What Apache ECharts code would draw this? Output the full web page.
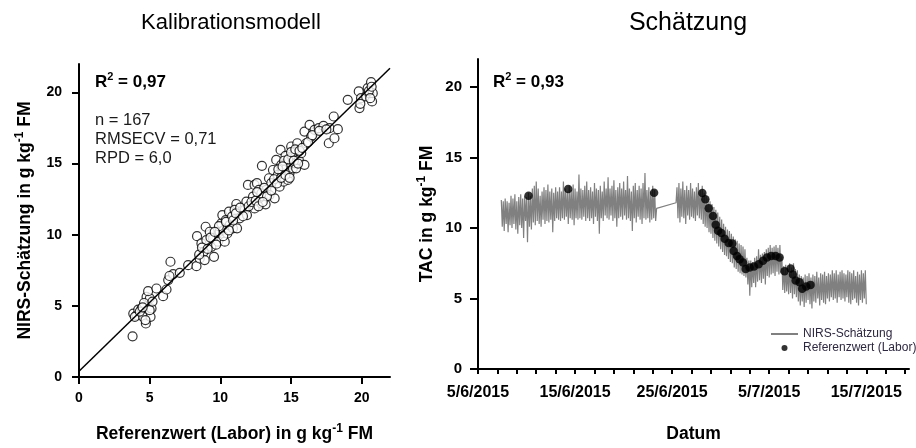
<!DOCTYPE html>
<html><head><meta charset="utf-8">
<script src="https://cdn.jsdelivr.net/npm/echarts@6/dist/echarts.min.js"></script>
<style>html,body{margin:0;padding:0;background:#fff}#c{width:916px;height:448px}</style>
</head><body><div id="c"></div>
<script>
// ---- Kalibrationsmodell: reference (lab) vs NIRS estimate, g/kg FM ----
const calRef = [3.79,3.84,4.07,4.19,4.42,3.95,4.54,4.73,4.89,4.78,
5.01,4.89,5.06,5.13,5.48,5.95,6.19,6.47,6.31,6.66,
7.13,7.72,8.31,8.35,8.54,8.66,8.82,8.96,9.01,8.89,
9.25,9.36,9.48,9.55,9.84,9.95,10.07,10.14,10.24,10.31,
10.38,10.49,10.61,10.66,10.82,10.89,11.13,11.18,11.01,11.36,
11.72,11.84,11.88,11.95,12.31,12.42,12.42,12.59,12.73,12.89,
13.01,13.2,12.94,13.25,13.48,13.44,13.6,13.72,13.84,13.95,
14.07,14.19,14.26,14.31,14.38,14.47,14.61,14.66,14.78,14.85,
14.89,15.01,15.08,15.13,15.25,15.29,15.36,15.44,15.55,15.72,
15.95,15.95,16.07,16.31,16.42,16.66,16.96,17.29,17.67,17.72,
18.02,18.07,18.31,19.01,19.84,19.79,19.95,20.31,20.42,20.54,
20.66,20.73,20.78,
4.3,4.6,5.0,4.7,5.2,4.5,6.4,
8.5,8.7,9.1,9.3,9.7,9.9,10.2,10.4,10.6,10.9,11.1,11.4,9.6,11.6,
12.0,12.2,12.5,12.7,12.9,13.1,13.3,12.6,13.0,
13.6,13.8,14.0,14.1,14.3,14.5,14.6,14.8,14.9,15.0,15.2,15.3,15.5,15.6,15.8,14.4,
16.2,16.5,17.0,17.5,
19.9,20.5,20.7,20.6];
const calNirs = [2.86,4.46,4.34,4.74,4.81,4.23,4.23,3.76,4.93,5.63,
5.52,6.03,4.23,4.81,6.22,5.68,6.15,8.1,6.81,7.23,
7.32,7.86,7.79,9.9,8.33,9.39,8.8,10.56,9.62,8.22,
10.21,9.15,9.74,8.45,9.51,10.21,10.8,11.38,10.33,9.51,
11.03,10.09,11.62,10.68,11.27,10.45,12.16,10.45,11.74,11.15,
11.74,12.32,11.38,13.5,12.68,11.85,13.5,13.62,13.15,12.21,
12.68,12.14,14.84,13.15,12.79,13.97,13.62,14.55,12.56,15.26,
14.2,13.38,15.96,14.91,14.32,13.73,15.54,14.67,13.85,15.07,
14.32,16.2,15.49,14.67,15.02,15.84,14.67,16.43,15.26,15.73,
14.91,17.25,16.43,17.72,16.9,17.37,17.49,17.65,16.43,17.49,
18.31,16.78,17.42,19.48,18.9,20.07,19.6,19.72,20.31,19.95,
20.73,19.37,19.95,
4.6,5.2,4.7,4.0,5.3,4.9,7.1,
8.6,9.1,9.0,9.8,9.3,10.6,9.9,10.9,10.3,11.0,11.5,11.9,10.2,11.3,
12.0,12.3,12.4,12.0,12.9,13.3,12.7,13.0,12.3,
13.1,13.9,13.6,14.6,14.0,15.2,14.2,15.3,14.0,15.8,15.2,16.0,15.0,15.9,16.1,14.8,
16.5,17.0,17.3,17.4,
19.2,20.1,20.4,19.6];
const fitX = [0, 22];
const fitY = [0.4, 21.7];
const calTicks = [0, 5, 10, 15, 20];

// ---- Schätzung: time series, x = days since 5/6/2015, one reading every 0.1 day ----
const seg1Start = 2.4, seg2Start = 20.4, sampleStep = 0.1;
const nirsSeg1 = [12.0,10.1,11.9,9.8,12.1,10.3,11.9,9.7,11.8,10.2,
12.3,10.0,12.1,10.3,12.4,9.9,11.9,9.6,12.2,10.2,
12.4,10.0,12.1,9.3,12.3,10.5,12.2,9.0,12.5,10.1,
12.3,9.9,12.8,10.4,13.0,10.2,13.3,10.5,12.8,10.3,
12.3,10.1,12.6,10.6,12.9,10.3,12.7,10.5,13.1,10.4,
12.6,10.6,12.8,9.7,12.5,10.5,12.9,10.7,12.6,10.6,
12.9,10.5,12.6,10.7,13.3,10.6,12.8,10.8,12.6,10.3,
13.0,10.7,12.7,10.6,13.1,10.2,12.8,10.7,12.6,10.6,
13.8,10.7,12.8,10.6,12.7,10.8,13.0,10.5,13.3,10.7,
12.7,10.5,12.9,10.7,12.6,10.3,13.2,10.8,12.8,10.5,
12.7,9.6,13.0,10.7,12.6,10.5,13.3,10.9,12.8,10.7,
13.6,10.6,12.8,10.9,13.0,10.5,13.4,10.7,12.7,10.1,
12.9,10.7,13.2,10.8,12.8,10.6,13.3,10.9,12.7,10.6,
13.7,10.7,12.8,10.5,12.6,9.8,13.0,10.7,13.2,10.4,
12.7,10.8,13.0,10.6,12.8,10.3,13.2,10.7,13.9,10.6,
12.7,10.7,12.9,10.4,12.6,10.6,13.0,10.7,12.7,10.5,
11.4];
const nirsSeg2 = [11.8,12.9,10.7,13.2,10.4,12.8,10.8,13.3,10.7,12.7,
10.3,13.0,10.9,12.7,10.6,13.2,10.8,12.8,10.7,12.6,
10.5,12.9,10.9,13.2,10.7,12.7,10.6,13.0,10.3,12.5,
10.1,12.3,10.0,12.1,9.7,11.9,9.6,11.7,9.3,11.5,
9.1,11.3,8.9,11.1,8.7,10.8,8.5,10.6,8.3,10.3,
8.1,10.1,8.0,9.9,7.8,9.8,7.6,9.6,7.5,9.4,
7.2,9.2,7.1,9.1,6.9,8.9,6.8,8.8,6.7,8.7,
6.6,8.5,6.5,7.9,6.0,7.7,5.2,7.7,5.8,7.6,
6.1,7.9,5.8,8.0,6.2,8.5,6.3,8.1,6.1,8.2,
6.4,8.3,6.0,8.5,6.6,8.6,6.5,8.8,6.7,8.6,
6.8,8.7,6.6,8.8,6.9,8.6,6.7,8.8,6.8,8.0,
5.6,7.3,5.4,7.4,5.5,7.2,5.3,7.5,5.4,7.2,
5.0,7.5,5.3,7.1,5.1,7.0,4.8,6.7,4.5,6.6,
4.8,6.5,4.4,6.7,4.7,6.6,4.9,6.8,4.6,6.5,
4.3,6.7,4.8,6.6,4.7,6.9,5.0,6.5,4.5,6.8,
4.9,6.7,4.7,6.9,4.6,6.6,5.0,6.8,4.8,6.7,
5.1,7.0,4.9,6.8,5.0,7.0,4.7,6.7,5.1,6.9,
4.9,7.0,5.0,6.8,4.8,6.7,5.1,7.0,4.7,6.9,
4.6,6.8,4.9,7.0,5.0,6.6,4.7,6.9,4.5,6.7,
4.9,7.0,4.7,6.8,5.0,7.0,4.6];
const refDay = [5.21,9.29,18.14,23.11,23.42,23.77,24.21,24.49,24.73,25.07,25.41,25.82,26.2,26.34,26.68,26.95,27.3,27.57,27.98,28.43,28.91,29.36,29.77,30.21,30.66,31.07,31.58,32.2,32.44,32.72,33.13,33.4,33.81,34.26];
const refVal = [12.3,12.77,12.51,12.49,12.05,11.4,10.86,10.23,9.81,9.65,9.25,8.95,8.91,8.37,8.02,7.79,7.56,7.09,7.21,7.28,7.44,7.68,7.91,8.02,8.02,7.91,6.93,7.14,6.7,6.28,6.16,5.69,5.86,5.97];
const dateLabelDays = [0, 10, 20, 30, 40];
const dateTickDays = [0,2,4,6,8,10,12,14,16,18,20,22,24,26,28,30,32,34,36,38,40,42,44];
const tacTicks = [0, 5, 10, 15, 20];

const F = "'Liberation Sans', Arial, Helvetica, sans-serif";
const chart = echarts.init(document.getElementById('c'), null, {renderer: 'canvas'});

const calData = calRef.map((x, i) => [x, calNirs[i]]);
const fitData = fitX.map((x, i) => [x, fitY[i]]);
const nirsData = nirsSeg1.map((v, i) => [seg1Start + i * sampleStep, v])
  .concat(nirsSeg2.map((v, i) => [seg2Start + i * sampleStep, v]));
const refData = refDay.map((d, i) => [d, refVal[i]]);

function dateLabel(v) {
  const d = new Date(2015, 5, 5 + Math.round(v));
  return d.getDate() + '/' + (d.getMonth() + 1) + '/' + d.getFullYear();
}

const nameRich = {
  n: {fontSize: 17.5, fontWeight: 'bold', fontFamily: F, color: '#000', lineHeight: 22},
  s: {fontSize: 12, fontWeight: 'bold', fontFamily: F, color: '#000', lineHeight: 11, verticalAlign: 'top'}
};
const axisLineStyle = {color: '#000', width: 2};

function valAxis(grid, max, ticks, labelSize, margin, tickLen, name, gap) {
  return {
    gridIndex: grid, type: 'value', min: 0, max: max,
    axisLine: {show: true, onZero: false, lineStyle: axisLineStyle},
    axisTick: {show: true, customValues: ticks, length: tickLen, lineStyle: {color: '#000', width: 2}},
    axisLabel: {customValues: ticks, margin: margin, fontSize: labelSize, fontWeight: 'bold', fontFamily: F, color: '#000'},
    splitLine: {show: false},
    name: name, nameLocation: 'middle', nameGap: gap,
    nameTextStyle: {rich: nameRich}
  };
}

const supText = (t) => ({
  text: '{b|R}{s|2}{b|' + t + '}',
  rich: {
    b: {fontSize: 17, fontWeight: 'bold', fontFamily: F, fill: '#000', color: '#000', lineHeight: 22},
    s: {fontSize: 11, fontWeight: 'bold', fontFamily: F, fill: '#000', color: '#000', lineHeight: 11, verticalAlign: 'top'}
  }
});

const xRight = valAxis(1, 44.4, dateTickDays, 16, 16, 5, '{n|Datum}', 54);
xRight.axisLabel.customValues = dateLabelDays;
xRight.axisLabel.formatter = dateLabel;

chart.setOption({
  animation: false,
  backgroundColor: '#fff',
  grid: [
    {left: 79, top: 64, width: 311, height: 313},
    {left: 478, top: 59, width: 431, height: 314}
  ],
  xAxis: [
    valAxis(0, 22, calTicks, 14, 14, 7, '{n|Referenzwert (Labor) in g kg}{s|-1}{n| FM}', 46),
    xRight
  ],
  yAxis: [
    valAxis(0, 22, calTicks, 14, 17, 7, '{n|NIRS-Schätzung in g kg}{s|-1}{n| FM}', 43),
    valAxis(1, 22, tacTicks, 15, 16, 8, '{n|TAC in g kg}{s|-1}{n| FM}', 40)
  ],
  legend: {
    left: 765, top: 323, orient: 'vertical', itemWidth: 27, itemHeight: 6, itemGap: 2,
    textStyle: {fontSize: 12, fontFamily: F, color: '#2e2840'},
    data: [{name: 'NIRS-Schätzung', itemStyle: {opacity: 0}}, 'Referenzwert (Labor)']
  },
  graphic: [
    {type: 'text', x: 231, y: 23, style: {text: 'Kalibrationsmodell', fontSize: 22, fontFamily: F, fill: '#000', align: 'center', verticalAlign: 'middle', textAlign: 'center', textVerticalAlign: 'middle'}},
    {type: 'text', x: 688, y: 23, style: {text: 'Schätzung', fontSize: 25, fontFamily: F, fill: '#000', align: 'center', verticalAlign: 'middle', textAlign: 'center', textVerticalAlign: 'middle'}},
    {type: 'text', x: 95, y: 71, style: supText(' = 0,97')},
    {type: 'text', x: 95, y: 111, style: {text: 'n = 167\nRMSECV = 0,71\nRPD = 6,0', fontSize: 16.5, fontFamily: F, fill: '#1a1a1a', lineHeight: 19}},
    {type: 'text', x: 493, y: 71, style: supText(' = 0,93')}
  ],
  series: [
    {type: 'scatter', xAxisIndex: 0, yAxisIndex: 0, data: calData, symbol: 'circle', symbolSize: 9,
      itemStyle: {color: '#fff', borderColor: '#000', borderWidth: 1.2}, silent: true, z: 2},
    {type: 'line', xAxisIndex: 0, yAxisIndex: 0, data: fitData, symbol: 'none',
      lineStyle: {color: '#000', width: 1.5}, silent: true, z: 3},
    {name: 'NIRS-Schätzung', type: 'line', xAxisIndex: 1, yAxisIndex: 1, data: nirsData, symbol: 'none',
      lineStyle: {color: '#808080', width: 1.2}, itemStyle: {color: '#808080'}, silent: true, z: 2},
    {name: 'Referenzwert (Labor)', type: 'scatter', xAxisIndex: 1, yAxisIndex: 1, data: refData, symbol: 'circle', symbolSize: 8.5,
      itemStyle: {color: '#000'}, silent: true, z: 3}
  ]
});
</script>
</body></html>
